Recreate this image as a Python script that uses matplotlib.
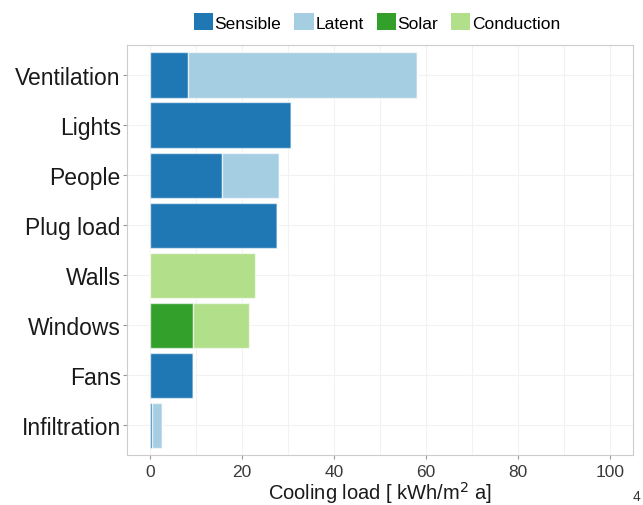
import matplotlib
matplotlib.use("Agg")
import matplotlib.pyplot as plt
from matplotlib.patches import Patch

plt.rcParams['font.family'] = ['Liberation Sans', 'DejaVu Sans']

categories = ["Ventilation", "Lights", "People", "Plug load", "Walls", "Windows", "Fans", "Infiltration"]
sensible = [8.3, 30.7, 15.6, 27.6, 0, 0, 9.3, 0.4]
latent = [49.7, 0, 12.4, 0, 0, 0, 0, 2.1]
solar = [0, 0, 0, 0, 0, 9.3, 0, 0]
conduction = [0, 0, 0, 0, 22.8, 12.2, 0, 0]
series_names = ["Sensible", "Latent", "Solar", "Conduction"]
colors = ["#1F78B4", "#A6CEE3", "#33A02C", "#B2DF8A"]
x_ticks = [0, 20, 40, 60, 80, 100]

fig = plt.figure(figsize=(6.43, 5.06), dpi=100)
ax = fig.add_axes([127/643, 1-456/506, (633-127)/643, (456-46)/506])

ypos = list(range(len(categories)))[::-1]
left = [0]*len(categories)
for vals, col in zip([sensible, latent, solar, conduction], colors):
    ax.barh(ypos, vals, left=left, height=0.9, color=col,
            edgecolor=(1, 1, 1, 0.6), linewidth=1.0, zorder=3)
    left = [l + v for l, v in zip(left, vals)]

ax.set_xlim(-5, 105)
ax.set_ylim(-0.6, len(categories) - 0.4)
ax.set_yticks(ypos)
ax.set_yticklabels(categories, fontsize=16.5, color="#1a1a1a")
ax.set_xticks(x_ticks)
ax.set_xticklabels([str(t) for t in x_ticks], fontsize=12.5, color="#3a3a3a")
ax.set_xticks([10, 30, 50, 70, 90], minor=True)
ax.tick_params(axis='both', which='major', length=3, color="#999999", width=0.8)
ax.tick_params(axis='y', which='major', pad=1.5)
ax.tick_params(axis='x', which='minor', length=0)
ax.grid(True, which='both', color="#f2f2f2", linewidth=0.8, zorder=0)
for s in ax.spines.values():
    s.set_color("#cccccc")
    s.set_linewidth(0.8)

ax.set_xlabel("Cooling load [ kWh/m$^2$ a]", fontsize=14.5, color="#1a1a1a", labelpad=0)

handles = [Patch(facecolor=c, edgecolor='none') for c in colors]
fig.legend(handles, series_names, loc='center', bbox_to_anchor=(377/643, 1-23/506),
           ncol=4, frameon=False, fontsize=12.5, handlelength=1.1, handleheight=1.1,
           handletextpad=0.1, columnspacing=0.75, borderaxespad=0.0)

fig.text(633/643, 1-497/506, "4", fontsize=10, color="#333333", va='center', ha='left')

fig.savefig("out.png", dpi=100)
